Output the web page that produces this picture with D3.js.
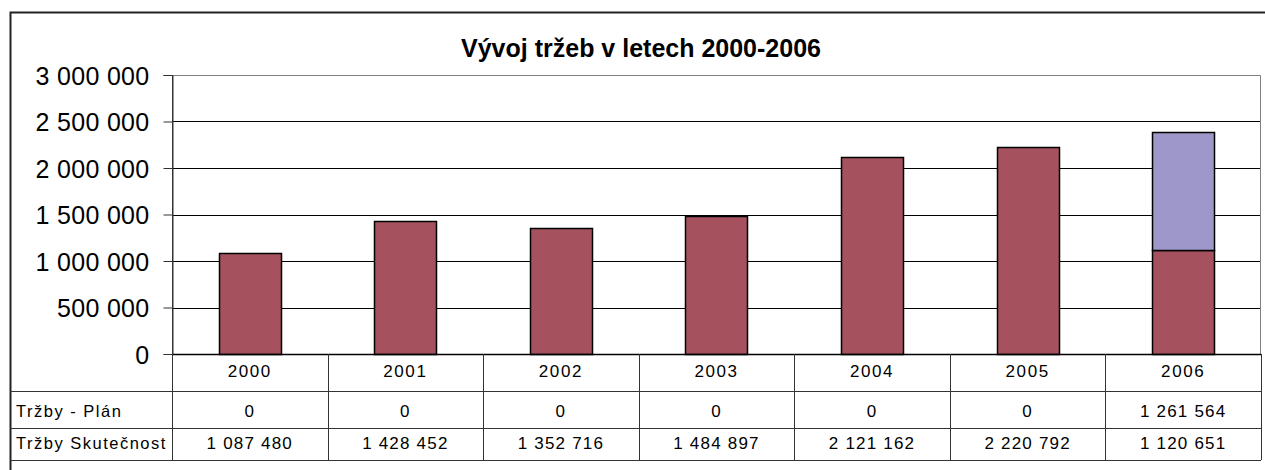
<!DOCTYPE html>
<html>
<head>
<meta charset="utf-8">
<script src="https://cdn.jsdelivr.net/npm/d3@7"></script>
<style>
	body { margin: 0; background: #fff; }
	svg { display: block; font-family: "Liberation Sans", Arial, sans-serif; }
</style>
</head>
<body>
<svg width="1265" height="470"></svg>
<script>
// data
var years = ["2000", "2001", "2002", "2003", "2004", "2005", "2006"]
var plan = [0, 0, 0, 0, 0, 0, 1261564]
var actual = [1087480, 1428452, 1352716, 1484897, 2121162, 2220792, 1120651]
var yTicks = [0, 500000, 1000000, 1500000, 2000000, 2500000, 3000000]
var rowNames = ["Tržby - Plán", "Tržby Skutečnost"]
var title = "Vývoj tržeb v letech 2000-2006"

var colActual = "#a5525e",
	colPlan = "#9e98ca"

var svg = d3.select("svg")

var pLeft = 172, pRight = 1261, pTop = 75, pBottom = 354

var x = d3.scaleBand().domain(years).range([pLeft, pRight]).padding(0)
var y = d3.scaleLinear().domain([0, 3000000]).range([pBottom, pTop])

function fmt(v) {
	return d3.format(",")(v).replace(/,/g, " ")
}

// outer chart frame
svg.append("rect")
	.attr("x", 10.5).attr("y", 12.5)
	.attr("width", 1270).attr("height", 470)
	.attr("fill", "none").attr("stroke", "#222").attr("stroke-width", 2)

svg.append("text")
	.attr("x", 641).attr("y", 57)
	.attr("text-anchor", "middle")
	.attr("font-size", 25).attr("font-weight", "bold")
	.text(title)

// gridlines
svg.append("g").selectAll("line")
	.data(yTicks.filter(function(d) { return d > 0 && d < 3000000 }))
	.join("line")
	.attr("x1", pLeft).attr("x2", pRight)
	.attr("y1", function(d) { return Math.round(y(d)) + .5 })
	.attr("y2", function(d) { return Math.round(y(d)) + .5 })
	.attr("stroke", "#000")

// plot area border (top/right grey)
svg.append("path")
	.attr("d", "M" + pLeft + "," + (pTop + .5) + "H" + (pRight - .5) + "V" + pBottom)
	.attr("fill", "none").attr("stroke", "#808080")

// y axis
var yAxis = d3.axisLeft(y).tickValues(yTicks).tickSize(9).tickPadding(14).tickFormat(fmt)
var ga = svg.append("g")
	.attr("transform", "translate(" + (pLeft + .5) + ",0)")
	.call(yAxis)
ga.select(".domain").attr("stroke", "#333")
ga.selectAll(".tick line").attr("stroke", "#333")
ga.selectAll("text")
	.attr("font-size", 25).attr("letter-spacing", 0.3)
	.attr("font-family", "Liberation Sans, Arial, sans-serif")
	.attr("fill", "#000").attr("dy", "0.36em")

// bars
var bw = x.bandwidth() * 0.4
var bars = svg.append("g")
years.forEach(function(yr, i) {
	var cx = x(yr) + x.bandwidth() / 2
	bars.append("rect")
		.attr("x", Math.round(cx - bw / 2) + .5)
		.attr("y", Math.round(y(actual[i])) + .5)
		.attr("width", Math.round(bw))
		.attr("height", Math.round(y(0)) - Math.round(y(actual[i])))
		.attr("fill", colActual).attr("stroke", "#000").attr("stroke-width", 1.5)
	if (plan[i] > 0) {
		bars.append("rect")
			.attr("x", Math.round(cx - bw / 2) + .5)
			.attr("y", Math.round(y(actual[i] + plan[i])) + .5)
			.attr("width", Math.round(bw))
			.attr("height", Math.round(y(actual[i])) - Math.round(y(actual[i] + plan[i])))
			.attr("fill", colPlan).attr("stroke", "#000").attr("stroke-width", 1.5)
	}
})

// x axis line
svg.append("line")
	.attr("x1", pLeft).attr("x2", pRight)
	.attr("y1", pBottom + .5).attr("y2", pBottom + .5)
	.attr("stroke", "#000").attr("stroke-width", 1.5)

// data table
var rowY = [pBottom, 391, 428, 460]
var tbl = svg.append("g").attr("stroke", "#333").attr("stroke-width", 1)
tbl.selectAll("line.h")
	.data(rowY.slice(1))
	.join("line")
	.attr("x1", 10).attr("x2", pRight)
	.attr("y1", function(d) { return d + .5 })
	.attr("y2", function(d) { return d + .5 })
tbl.selectAll("line.v")
	.data(years.map(function(d) { return x(d) }).concat([pRight]))
	.join("line")
	.attr("x1", function(d) { return Math.round(d) + .5 })
	.attr("x2", function(d) { return Math.round(d) + .5 })
	.attr("y1", function(d, i) { return i == 0 ? pTop : pBottom })
	.attr("y2", rowY[3])

var txt = svg.append("g").attr("font-size", 17).attr("letter-spacing", 1.2)
years.forEach(function(yr, i) {
	var cx = x(yr) + x.bandwidth() / 2
	txt.append("text").attr("x", cx).attr("y", 377).attr("text-anchor", "middle")
		.attr("letter-spacing", 1.6).text(yr)
	txt.append("text").attr("x", cx).attr("y", 417).attr("text-anchor", "middle").text(fmt(plan[i]))
	txt.append("text").attr("x", cx).attr("y", 449).attr("text-anchor", "middle").text(fmt(actual[i]))
})
rowNames.forEach(function(n, i) {
	txt.append("text").attr("x", 16).attr("y", i == 0 ? 417 : 449)
		.attr("letter-spacing", 1.5).attr("font-size", 16.5).text(n)
})
</script>
</body>
</html>
